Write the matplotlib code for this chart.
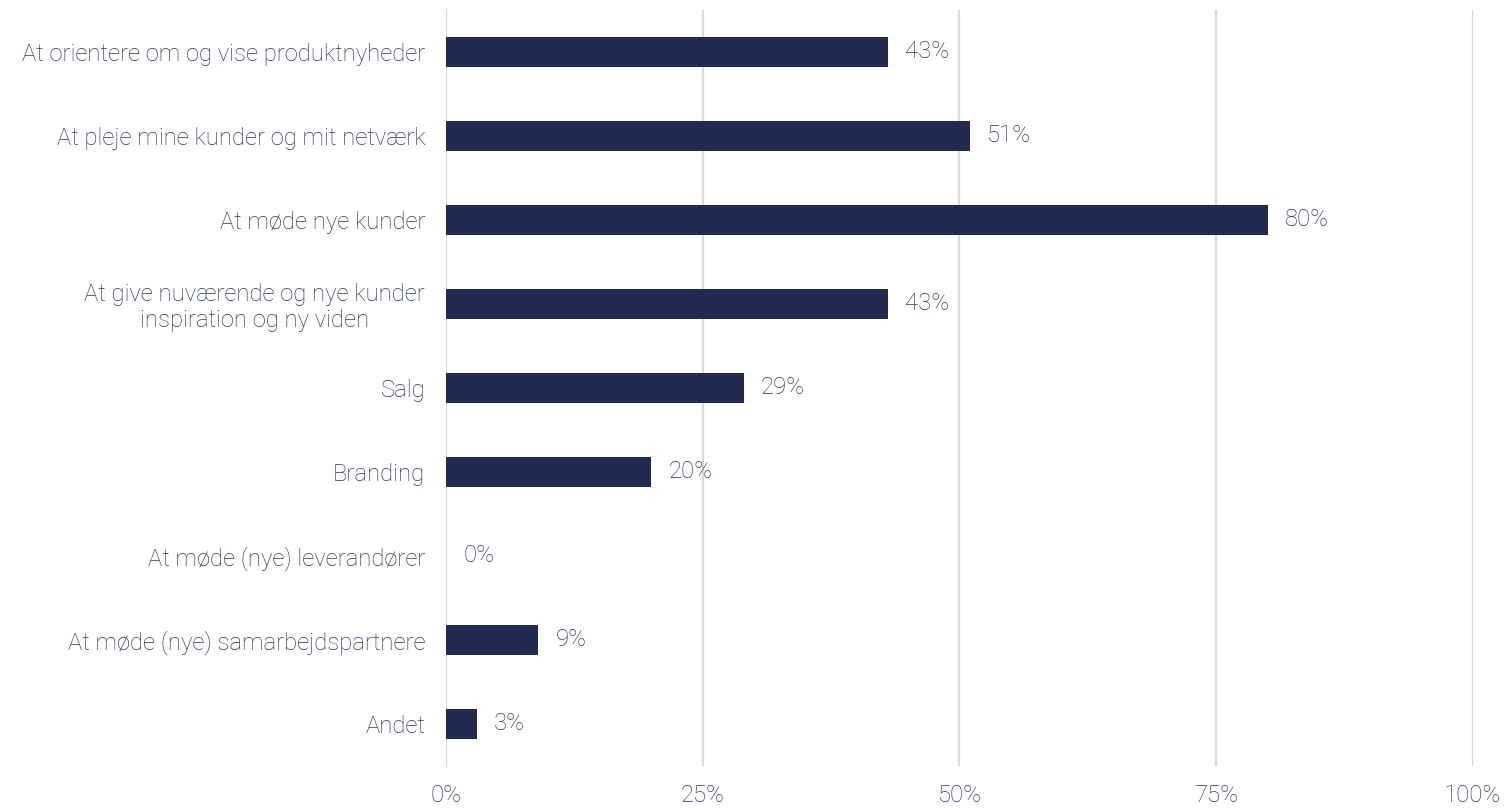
import matplotlib
matplotlib.use('Agg')
import matplotlib.pyplot as plt
from matplotlib.ticker import PercentFormatter

# 数据
categories = [
    'At orientere om og vise produktnyheder',
    'At pleje mine kunder og mit netværk',
    'At møde nye kunder',
    'At give nuværende og nye kunder\ninspiration og ny viden',
    'Salg',
    'Branding',
    'At møde (nye) leverandører',
    'At møde (nye) samarbejdspartnere',
    'Andet',
]
values = [43, 51, 80, 43, 29, 20, 0, 9, 3]
x_ticks = [0, 25, 50, 75, 100]

bar_color = '#222a50'
text_color = '#2e3558'
grid_color = '#d9d9d9'
fs = 17.2

plt.rcParams['font.family'] = ['Roboto', 'DejaVu Sans']
plt.rcParams['font.weight'] = 'light'

fig = plt.figure(figsize=(15.09, 8.11), dpi=100)
ax = fig.add_axes([0.2956, 0.0555, 0.6805, 0.9322])

y = list(range(len(categories)))
ax.barh(y, values, height=0.35, color=bar_color, zorder=3)

# 数值标签
for yi, v in zip(y, values):
    ax.annotate(f'{v}%', (v, yi), xytext=(17, 0), textcoords='offset pixels',
                va='center', ha='left', fontsize=fs, color=text_color)

ax.set_xlim(0, 100)
ax.set_ylim(len(categories) - 0.5, -0.5)
ax.set_xticks(x_ticks)
ax.xaxis.set_major_formatter(PercentFormatter(decimals=0))
ax.set_yticks(y)
ax.set_yticklabels(categories, ha='right', multialignment='center', linespacing=1.15)

ax.grid(axis='x', color=grid_color, linewidth=1.6, zorder=0)
ax.grid(axis='y', visible=False)
for s in ax.spines.values():
    s.set_visible(False)
ax.tick_params(axis='both', length=0, labelsize=fs, labelcolor=text_color)
ax.tick_params(axis='y', pad=15)
ax.tick_params(axis='x', pad=13)

fig.savefig('out.png', dpi=100)
